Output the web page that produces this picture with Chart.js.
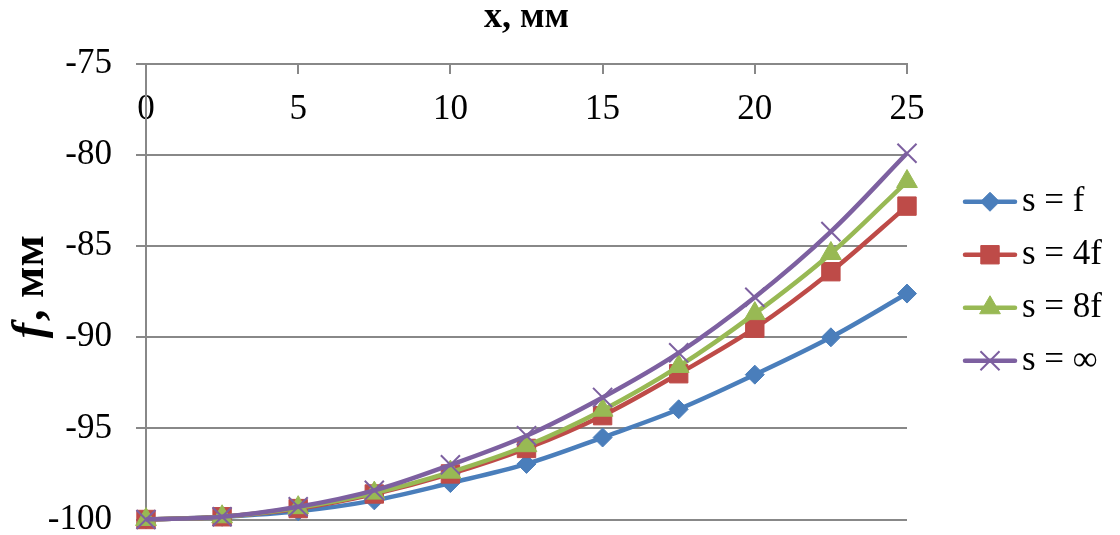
<!DOCTYPE html>
<html>
<head>
<meta charset="utf-8">
<script src="https://cdn.jsdelivr.net/npm/chart.js@4.4.1/dist/chart.umd.min.js"></script>
<style>
  html, body { margin: 0; padding: 0; background: #ffffff; overflow: hidden; }
  canvas { display: block; }
</style>
</head>
<body>
<canvas id="chart" width="1120" height="535"></canvas>
<script>
// Positions along x, mm
const xValues = [0, 2.5, 5, 7.5, 10, 12.5, 15, 17.5, 20, 22.5, 25];

// f, mm for each spacing s
const sF   = [-100, -99.85, -99.55, -98.95, -98.0, -96.95, -95.5, -93.95, -92.05, -90.0, -87.6];
const s4F  = [-100, -99.85, -99.4,  -98.6,  -97.5, -96.1,  -94.3, -92.0,  -89.5,  -86.4, -82.8];
const s8F  = [-100, -99.85, -99.35, -98.55, -97.4, -95.95, -94.0, -91.6,  -88.7,  -85.4, -81.45];
const sInf = [-100, -99.85, -99.3,  -98.4,  -97.0, -95.4,  -93.3, -90.85, -87.8,  -84.2, -79.9];

const seriesNames = ['s = f', 's = 4f', 's = 8f', 's = \u221E'];

// Axis tick labels
const xTickValues = [0, 5, 10, 15, 20, 25];
const yTickValues = [-100, -95, -90, -85, -80, -75];

const FONT = '"Liberation Serif", "Times New Roman", serif';
const GRID = '#888888';

// Legend geometry
const LEGEND_FONT = 35;
const LEGEND_PAD = 18;
const LEGEND_BOX = 41.5;
const SAMPLE_W = 54;
const LEGEND_LEFT = 945;   // left edge of the legend block

// Keep the legend block at a fixed left edge: right padding = what its width leaves over
function legendRightPadding() {
  const c = document.createElement('canvas').getContext('2d');
  c.font = LEGEND_FONT + 'px ' + FONT;
  const tw = Math.max(...seriesNames.map(t => c.measureText(t).width));
  const w = LEGEND_PAD + LEGEND_BOX + LEGEND_FONT / 2 + tw + 10;
  return Math.max(0, 1120 - LEGEND_LEFT - w);
}

function points(ys) {
  return xValues.map((x, i) => ({ x: x, y: ys[i] }));
}

function series(label, ys, color, style, radius, borderW, order) {
  return {
    label: label,
    data: points(ys),
    borderColor: color,
    backgroundColor: color,
    borderWidth: 4.5,
    tension: 0.35,
    pointStyle: style,
    pointRadius: radius,
    pointHoverRadius: radius,
    pointBackgroundColor: color,
    pointBorderColor: color,
    pointBorderWidth: borderW,
    clip: false,
    order: order
  };
}

// Rotated y-axis caption with an italic symbol
const yCaption = {
  id: 'yCaption',
  afterDraw(chart) {
    const { ctx, chartArea } = chart;
    const cy = (chartArea.top + chartArea.bottom) / 2 - 4;
    ctx.save();
    ctx.translate(43, cy);
    ctx.rotate(-Math.PI / 2);
    ctx.fillStyle = '#000';
    ctx.textBaseline = 'alphabetic';
    ctx.textAlign = 'left';
    const fSym = 'italic bold 46px ' + FONT;
    const rest = 'bold 46px ' + FONT;
    ctx.font = fSym;
    const w1 = ctx.measureText('f').width;
    ctx.font = rest;
    const w2 = ctx.measureText(', мм').width;
    const x0 = -(w1 + w2) / 2;
    ctx.font = fSym;
    ctx.fillText('f', x0, 0);
    ctx.font = rest;
    ctx.fillText(', мм', x0 + w1 + 2, 0);
    ctx.restore();
  }
};

// Legend samples: a line with the series marker on it
const legendSamples = {
  id: 'legendSamples',
  afterLayout(chart) {
    const lg = chart.legend;
    if (lg) { lg.top += 21; lg.bottom += 21; }
  },
  afterDraw(chart) {
    const lg = chart.legend;
    if (!lg || !lg.legendHitBoxes) return;
    const ctx = chart.ctx;
    lg.legendItems.forEach((item, i) => {
      const hb = lg.legendHitBoxes[i];
      const ds = chart.data.datasets[item.datasetIndex];
      const y = hb.top + hb.height / 2;
      const x0 = hb.left;
      const x1 = hb.left + SAMPLE_W;
      ctx.save();
      ctx.strokeStyle = ds.borderColor;
      ctx.lineWidth = ds.borderWidth;
      ctx.lineCap = 'round';
      ctx.beginPath();
      ctx.moveTo(x0 + 2, y);
      ctx.lineTo(x1 - 2, y);
      ctx.stroke();
      ctx.fillStyle = ds.pointBackgroundColor;
      ctx.strokeStyle = ds.pointBorderColor;
      ctx.lineWidth = ds.pointBorderWidth;
      ctx.lineCap = 'butt';
      Chart.helpers.drawPoint(ctx, {
        pointStyle: ds.pointStyle,
        radius: ds.pointRadius,
        borderWidth: ds.pointBorderWidth,
        rotation: 0
      }, (x0 + x1) / 2, y);
      ctx.restore();
    });
  }
};

function noLabelOverhang(s) {
  s.paddingTop = 0; s.paddingBottom = 0; s.paddingLeft = 0; s.paddingRight = 0;
}

new Chart(document.getElementById('chart'), {
  type: 'line',
  data: {
    datasets: [
      series(seriesNames[0], sF,   '#4A7EBB', 'rectRot',  9.5, 1, 3),
      series(seriesNames[1], s4F,  '#BE4B48', 'rect',     13,  1, 2),
      series(seriesNames[2], s8F,  '#98B954', 'triangle', 12,  1, 1),
      series(seriesNames[3], sInf, '#7D60A0', 'crossRot', 13.5, 2, 0)
    ]
  },
  options: {
    responsive: false,
    animation: false,
    devicePixelRatio: 1,
    layout: { padding: { left: 0, top: 0, right: legendRightPadding(), bottom: 14.5 } },
    scales: {
      x: {
        type: 'linear',
        position: 'top',
        min: 0,
        max: 25,
        afterBuildTicks: s => { s.ticks = xTickValues.map(v => ({ value: v })); },
        afterFit: s => { s.height = 64; noLabelOverhang(s); },
        grid: { drawOnChartArea: false, drawTicks: true, tickLength: -10, color: GRID, lineWidth: 2 },
        border: { display: true, color: GRID, width: 2 },
        ticks: {
          mirror: true,
          padding: 25,
          maxRotation: 0,
          autoSkip: false,
          color: '#000',
          font: { family: FONT, size: 35 }
        },
        title: {
          display: true,
          text: 'x, мм',
          color: '#000',
          padding: { top: 0, bottom: 0 },
          font: { family: FONT, size: 36, weight: 'bold', lineHeight: 1 }
        }
      },
      y: {
        type: 'linear',
        position: 'left',
        min: -100,
        max: -75,
        afterBuildTicks: s => { s.ticks = yTickValues.map(v => ({ value: v })); },
        afterFit: s => { s.width = 146; noLabelOverhang(s); },
        grid: { color: GRID, lineWidth: 2, drawTicks: true, tickLength: 10 },
        border: { display: true, color: GRID, width: 2 },
        ticks: {
          padding: 24,
          color: '#000',
          font: { family: FONT, size: 35 }
        },
        title: { display: false }
      },
      gap: {
        type: 'linear',
        position: 'right',
        display: true,
        grid: { display: false, drawTicks: false },
        border: { display: false },
        ticks: { display: false },
        afterFit: s => { s.width = 38; noLabelOverhang(s); }
      }
    },
    plugins: {
      tooltip: { enabled: false },
      legend: {
        display: true,
        position: 'right',
        align: 'center',
        labels: {
          boxWidth: LEGEND_BOX,
          boxHeight: 4,
          padding: LEGEND_PAD,
          color: '#000',
          font: { family: FONT, size: LEGEND_FONT },
          sort: (a, b) => a.datasetIndex - b.datasetIndex,
          generateLabels: chart => {
            const items = Chart.defaults.plugins.legend.labels.generateLabels(chart);
            items.forEach(it => {
              it.fillStyle = 'rgba(0,0,0,0)';
              it.strokeStyle = 'rgba(0,0,0,0)';
              it.lineWidth = 0;
            });
            return items;
          }
        }
      }
    }
  },
  plugins: [yCaption, legendSamples]
});
</script>
</body>
</html>
